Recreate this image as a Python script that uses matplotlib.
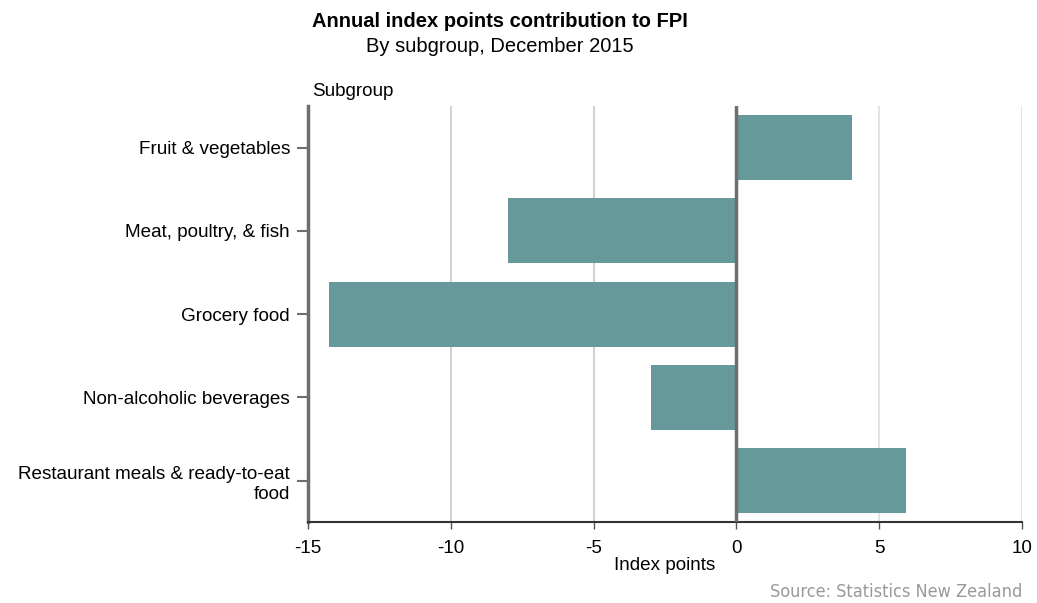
import matplotlib
matplotlib.use("Agg")
import matplotlib.pyplot as plt

# ------------------------------
# data
# ------------------------------
subgroups = [
    "Fruit & vegetables",
    "Meat, poultry, & fish",
    "Grocery food",
    "Non-alcoholic beverages",
    "Restaurant meals & ready-to-eat\nfood",
]
contribution = [4.05, -8.0, -14.25, -3.0, 5.95]
x_ticks = [-15, -10, -5, 0, 5, 10]

plt.rcParams['font.family'] = ['Liberation Sans', 'DejaVu Sans']
FS = 13.6

fig = plt.figure(figsize=(10.37, 6.03), dpi=100)
ax = fig.add_axes([0.297, 0.134, 0.6885, 0.690])

ypos = list(range(len(subgroups)))
ax.barh(ypos, contribution, height=0.78, color='#669999', zorder=3)

ax.set_ylim(len(subgroups) - 0.5, -0.5)
ax.set_xlim(-15, 10)
ax.set_xticks(x_ticks)
ax.set_xticklabels([str(t) for t in x_ticks], fontsize=FS)
ax.set_yticks(ypos)
ax.set_yticklabels(subgroups, fontsize=FS, linespacing=1.25)

# grid lines
for t in x_ticks:
    if t in (-15, 0):
        continue
    ax.axvline(t, color='#c8c8c8' if t < 0 else '#dddddd', linewidth=1.2, zorder=1)
ax.axvline(0, color='#6e6e6e', linewidth=2.5, zorder=4)

for side in ['top', 'right']:
    ax.spines[side].set_visible(False)
ax.spines['left'].set_color('#6e6e6e')
ax.spines['left'].set_linewidth(2.5)
ax.spines['bottom'].set_color('#333333')
ax.spines['bottom'].set_linewidth(1.5)

ax.tick_params(axis='y', length=8, width=1.5, color='#6e6e6e', pad=5)
ax.tick_params(axis='x', length=5, width=1, color='#555555', pad=8)

ax.set_xlabel("Index points", fontsize=FS, labelpad=0)

fig.text(0.482, 0.965, "Annual index points contribution to FPI",
         ha='center', va='center', fontsize=14.5, fontweight='bold')
fig.text(0.482, 0.923, "By subgroup, December 2015",
         ha='center', va='center', fontsize=14.5)
fig.text(0.301, 0.848, "Subgroup", ha='left', va='center', fontsize=FS)
fig.text(0.986, 0.018, "Source: Statistics New Zealand", ha='right', va='center',
         fontsize=13, color='#999999', family=['DejaVu Sans'], fontstretch='condensed')

fig.savefig("out.png", dpi=100)
